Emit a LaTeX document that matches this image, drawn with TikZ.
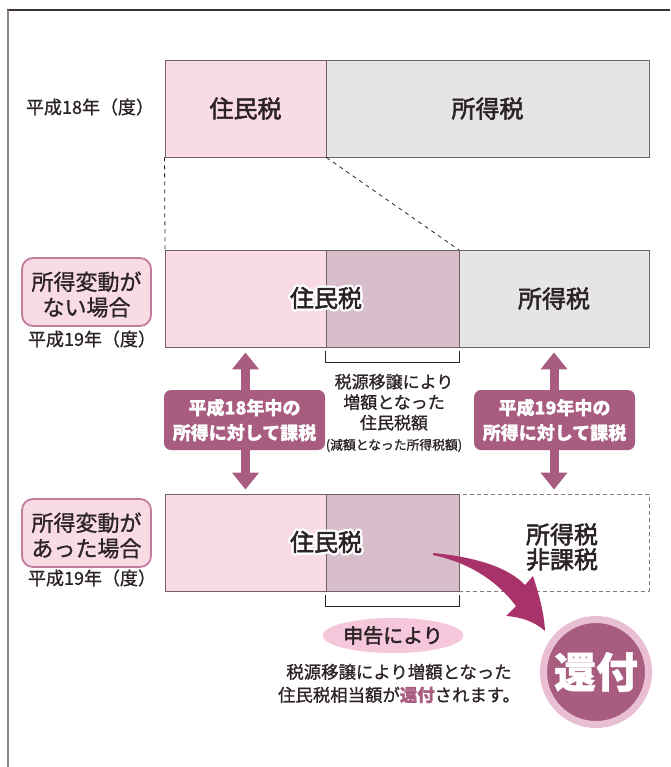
\documentclass[tikz,border=0pt]{standalone}
\usepackage{fontspec}
\setmainfont{Noto Sans CJK JP}[FakeBold=1]
\newfontfamily\medfont{Noto Sans CJK JP}[FakeBold=2.2]
\usetikzlibrary{shapes.geometric,arrows.meta}
\definecolor{ink}{HTML}{2B2326}
\definecolor{pinkA}{HTML}{F9DBE6}
\definecolor{mauveA}{HTML}{D8BDCB}
\definecolor{grayA}{HTML}{E5E5E5}
\definecolor{plum}{HTML}{A85C80}
\definecolor{magentaB}{HTML}{A8336A}
\definecolor{ellfill}{HTML}{F6C6DA}
\definecolor{ringc}{HTML}{EABFD3}
\definecolor{edgec}{HTML}{6E6266}
\definecolor{lblborder}{HTML}{C27C9E}
\definecolor{framec}{HTML}{3C3236}
\definecolor{framel}{HTML}{8C8688}
\newcommand\hcopy[3]{\rlap{\kern#1\raisebox{#2}{#3}}}
\newcommand\halotxt[1]{{\color{white}\hcopy{2.4pt}{0pt}{#1}\hcopy{-2.4pt}{0pt}{#1}\hcopy{0pt}{2.4pt}{#1}\hcopy{0pt}{-2.4pt}{#1}\hcopy{1.7pt}{1.7pt}{#1}\hcopy{-1.7pt}{1.7pt}{#1}\hcopy{1.7pt}{-1.7pt}{#1}\hcopy{-1.7pt}{-1.7pt}{#1}}#1}
\tikzset{
  seg/.style={draw=edgec, line width=0.9pt, inner sep=0pt, minimum height=97pt, text=ink, font=\medfont\fontsize{24}{28}\selectfont},
  bigtxt/.style={text=ink, inner sep=0pt, font=\medfont\fontsize{24}{28}\selectfont, align=center},
  yearlbl/.style={text=ink, inner sep=0pt, font=\fontsize{18}{22}\selectfont},
  chgbox/.style={draw=lblborder, line width=1.8pt, fill=pinkA, rounded corners=11pt, minimum width=129pt, minimum height=68pt, inner sep=0pt},
  chgtxt/.style={inner sep=0pt, align=center, text=ink, font=\fontsize{22}{25.5}\selectfont},
  taxlbl/.style={fill=plum, rounded corners=7pt, minimum width=161pt, minimum height=60pt, inner sep=0pt, align=center, text=white, font=\fontsize{18}{25}\selectfont\bfseries},
  dashline/.style={draw=ink, line width=0.8pt, dash pattern=on 4pt off 4pt},
  bracket/.style={draw=ink, line width=0.9pt},
  dblarrow/.style={draw=plum, line width=9pt, {Triangle[width=26pt,length=17pt]}-{Triangle[width=26pt,length=17pt]}},
  smalltxt/.style={text=ink, inner sep=0pt, align=center}
}
\begin{document}
\begin{tikzpicture}[x=1pt,y=-1pt]
\useasboundingbox (0,0) rectangle (670,767);
% frame
\draw[framec, line width=1.4pt] (7,10) -- (670,10);
\draw[framel, line width=2pt] (8,10) -- (8,767);

% row 1
\node[seg, fill=pinkA, minimum width=161pt] (r1a) at (245.5,108.5) {住民税};
\node[seg, fill=grayA, minimum width=323pt] (r1b) at (487.5,108.5) {所得税};
\node[yearlbl] (y1) at (90,107) {平成18年（度）};

% dashed guides
\draw[dashline] (r1a.south west) -- (165,250);
\draw[dashline] (r1a.south east) -- (459,250);

% row 2
\node[seg, fill=pinkA, minimum width=161pt] (r2a) at (245.5,298.5) {};
\node[seg, fill=mauveA, minimum width=133pt] (r2b) at (392.5,298.5) {};
\node[seg, fill=grayA, minimum width=190pt] (r2c) at (554,298.5) {所得税};
\node[bigtxt] (t2) at (326,298) {\halotxt{住民税}};
\node[chgbox] (c1) at (86.5,292) {};
\node[chgtxt] (c1t) at (86.5,294.5) {所得変動が\\ない場合};
\node[yearlbl] (y2) at (92,339) {平成19年（度）};

% bracket and explanation
\draw[bracket] ([yshift=-4pt]r2b.south west) -- ++(0,11) -| ([yshift=-4pt]r2b.south east);
\node[smalltxt, font=\fontsize{17}{20.5}\selectfont] (ex) at (394,413) {税源移譲により\\増額となった\\住民税額\\{\fontsize{12.8}{20.5}\selectfont (減額となった所得税額)}};

% row 3
\node[seg, fill=white, draw=edgec!85, dash pattern=on 4pt off 3pt, minimum width=190pt] (r3c) at (554,542.5) {};
\node[seg, fill=pinkA, minimum width=161pt] (r3a) at (245.5,542.5) {};
\node[seg, fill=mauveA, minimum width=133pt] (r3b) at (392.5,542.5) {};
\node[bigtxt] (t3) at (326,542) {\halotxt{住民税}};
\node[bigtxt, font=\medfont\fontsize{24}{25}\selectfont] (t3c) at (562,547) {所得税\\非課税};
\node[chgbox] (c2) at (86.5,533) {};
\node[chgtxt] (c2t) at (86.5,535.5) {所得変動が\\あった場合};
\node[yearlbl] (y3) at (92,578) {平成19年（度）};

% arrows
\draw[dblarrow] ([yshift=-5pt]r2a.south) -- ([yshift=4pt]r3a.north);
\draw[dblarrow] ([yshift=-5pt]r2c.south) -- ([yshift=4pt]r3c.north);
\node[taxlbl] (k1) at (244.5,420) {平成18年中の\\所得に対して課税};
\node[taxlbl] (k2) at (554.5,420) {平成19年中の\\所得に対して課税};

% bottom bracket
\draw[bracket] ([yshift=-4pt]r3b.south west) -- ++(0,11) -| ([yshift=-4pt]r3b.south east);

% ellipse
\node[ellipse, fill=ellfill, minimum width=134pt, minimum height=35pt, inner sep=0pt, text=ink, font=\medfont\fontsize{20}{22}\selectfont] (sk) at (393,635.5) {申告により};

% bottom text
\node[smalltxt, font=\fontsize{17.4}{23}\selectfont] (bt) at (399,683.5) {税源移譲により増額となった\\住民税相当額が{\color{plum}\bfseries 還付}されます。};

% refund circle
\node[circle, fill=plum, draw=ringc, line width=7pt, minimum size=105pt, inner sep=0pt, text=white, font=\fontsize{42}{42}\selectfont\bfseries] (rf) at (596,672) {還付};

% curved arrow
\fill[magentaB] (433,553) .. controls (475,557) and (508,567) .. (525,585)
  -- (533,576) .. controls (539,595) and (544,612) .. (545,631)
  .. controls (535,622) and (522,617) .. (506,616)
  -- (516,606) .. controls (497,581) and (470,563) .. (433,555) -- cycle;
\end{tikzpicture}
\end{document}
